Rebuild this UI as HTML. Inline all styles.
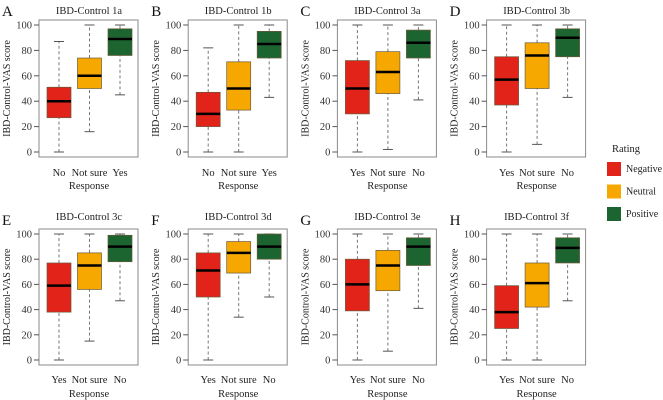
<!DOCTYPE html>
<html><head><meta charset="utf-8"><style>
html,body{margin:0;padding:0;background:#fff;width:663px;height:400px;overflow:hidden}
svg{display:block;font-family:"Liberation Serif",serif}
</style></head><body>
<svg id="chart" width="663" height="400" viewBox="0 0 663 400" xmlns="http://www.w3.org/2000/svg"></svg>
<script>
const panelLetters = ["A","B","C","D","E","F","G","H"];
const panelTitles = ["IBD-Control 1a","IBD-Control 1b","IBD-Control 3a","IBD-Control 3b","IBD-Control 3c","IBD-Control 3d","IBD-Control 3e","IBD-Control 3f"];
const panelCategories = [["No","Not sure","Yes"],["No","Not sure","Yes"],["Yes","Not sure","No"],["Yes","Not sure","No"],["Yes","Not sure","No"],["Yes","Not sure","No"],["Yes","Not sure","No"],["Yes","Not sure","No"]];
const ratingOrder = ["Negative","Neutral","Positive"];
// per panel: [whiskerLow, q1, median, q3, whiskerHigh] for negative, neutral, positive
const negativeStats = [[0,27,40,51,87],[0,20,30,47,82],[0,30,50,72,100],[0,37,57,75,100],[0,38,59,77,100],[0,50,71,85,100],[0,39,60,80,100],[0,25,38,59,100]];
const neutralStats = [[16,50,60,74,100],[0,33,50,71,100],[2,46,63,79,100],[6,50,76,86,100],[15,56,75,85,100],[34,69,85,94,100],[7,55,75,87,100],[0,42,61,77,100]];
const positiveStats = [[45,76,89,97,100],[43,74,85,95,100],[41,74,86,96,100],[43,75,90,97,100],[47,78,90,99,100],[50,80,90,100,100],[41,75,90,97,100],[47,77,89,97,100]];
const yTicks = [0,20,40,60,80,100];
const colors = {Negative:"#e2231a",Neutral:"#f6a800",Positive:"#1c6531"};

const svg = document.getElementById('chart');
const NS = "http://www.w3.org/2000/svg";
function mk(tag, attrs, parent){const e=document.createElementNS(NS,tag);for(const k in attrs)e.setAttribute(k,attrs[k]);(parent||svg).appendChild(e);return e;}

for(let p=0;p<8;p++){
  const col=p%4,row=Math.floor(p/4);
  const fl=39+149.2*col, fr=fl+99;
  const ft=row?229:20, fb=row?365:157;
  const y100=row?234:25, y0=row?360:152;
  const yScale=v=>y0-(y0-y100)*v/100;
  const xScale=i=>fl+20+30.5*i;
  const g=mk('g',{});
  
  
  const L=mk('text',{x:fl-37,y:row?225:16,'font-size':15,fill:'#111'},g);L.textContent=panelLetters[p];
  
  const T=mk('text',{x:fl+50,y:row?220:14,'font-size':10.5,'text-anchor':'middle',fill:'#222'},g);T.textContent=panelTitles[p];
  
  const F=mk('rect',{x:fl,y:ft,width:fr-fl,height:fb-ft,fill:'none',stroke:'#8a8a8a','stroke-width':1},g);
  
  yTicks.forEach(t=>{
    const y=yScale(t);
    mk('line',{x1:fl-5,x2:fl,y1:y,y2:y,stroke:'#555'},g);
    const tt=mk('text',{x:fl-7,y:y+3.5,'font-size':10.5,'text-anchor':'end',fill:'#333'},g);tt.textContent=t;
    
  });
  const yt=mk('text',{x:0,y:0,'font-size':10,'text-anchor':'middle',fill:'#222',transform:`translate(${fl-29},${(ft+fb)/2}) rotate(-90)`},g);
  yt.textContent='IBD-Control-VAS score';
  
  const stats=[negativeStats[p],neutralStats[p],positiveStats[p]];
  stats.forEach((s,i)=>{
    const cx=xScale(i),w=24;
    const bg=mk('g',{},g);
    
    
    mk('line',{x1:cx,x2:cx,y1:yScale(s[0]),y2:yScale(s[1]),stroke:'#777','stroke-dasharray':'3,2.5'},bg);
    mk('line',{x1:cx,x2:cx,y1:yScale(s[3]),y2:yScale(s[4]),stroke:'#777','stroke-dasharray':'3,2.5'},bg);
    mk('line',{x1:cx-5,x2:cx+5,y1:yScale(s[0]),y2:yScale(s[0]),stroke:'#555'},bg);
    mk('line',{x1:cx-5,x2:cx+5,y1:yScale(s[4]),y2:yScale(s[4]),stroke:'#555'},bg);
    mk('rect',{x:cx-w/2,y:yScale(s[3]),width:w,height:yScale(s[1])-yScale(s[3]),fill:colors[ratingOrder[i]],stroke:'#6a5a3a','stroke-width':0.7},bg);
    mk('line',{x1:cx-w/2,x2:cx+w/2,y1:yScale(s[2]),y2:yScale(s[2]),stroke:'#000','stroke-width':2.5},bg);
    const xl=mk('text',{x:cx,y:row?383:176,'font-size':10.5,'text-anchor':'middle',fill:'#222'},g);
    xl.textContent=panelCategories[p][i];
    
  });
  const xt=mk('text',{x:fl+50,y:row?397:189,'font-size':10.5,'text-anchor':'middle',fill:'#222'},g);xt.textContent='Response';
  
}
const lg=mk('g',{});


const lt=mk('text',{x:612,y:152,'font-size':10.5,fill:'#222'},lg);lt.textContent='Rating';

ratingOrder.forEach((r,i)=>{
  const y=162+i*22.5;
  const e=mk('g',{},lg);
  
  
  mk('rect',{x:607,y:y,width:14,height:14,fill:colors[r]},e);
  const t=mk('text',{x:626,y:y+10,'font-size':10,fill:'#222'},e);t.textContent=r;
});
</script>
</body></html>
